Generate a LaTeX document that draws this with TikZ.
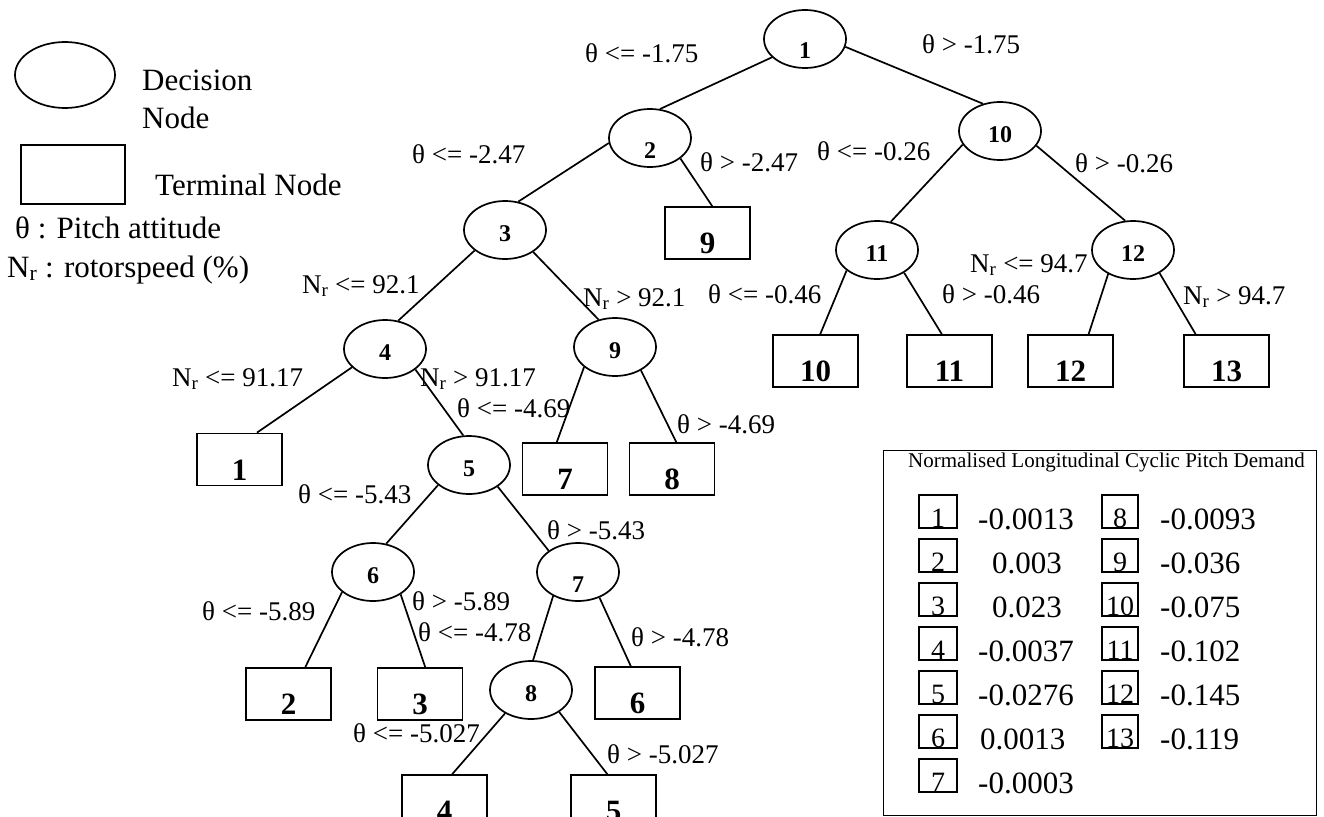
\documentclass[tikz,border=0pt]{standalone}
\usepackage{fontspec}
\setmainfont{Liberation Serif}
\usetikzlibrary{shapes.geometric}
\newcommand{\fsz}[1]{\fontsize{#1}{#1}\selectfont}
\newcommand{\Nr}{N\textsubscript{r}}
\tikzset{
  x=1pt, y=-1pt,
  dec/.style={ellipse, draw, line width=1.7pt, minimum width=82pt, minimum height=58pt,
    inner sep=0pt, font=\fsz{24}\bfseries, text height=22pt, text depth=0pt},
  declow/.style={dec, text height=40pt},
  term/.style={rectangle, draw, line width=1.7pt, minimum width=85pt, minimum height=52pt,
    inner sep=0pt, font=\fsz{31}\bfseries, text height=41pt, text depth=0pt},
  cond/.style={anchor=base west, inner sep=0pt, font=\fsz{27}},
  branch/.style={line width=1.7pt},
  legtxt/.style={anchor=base west, inner sep=0pt, font=\fsz{31}},
  keybox/.style={rectangle, draw, line width=1.3pt, minimum height=33pt,
    inner sep=0pt, font=\fsz{28}, text height=31pt, text depth=0pt},
  keyval/.style={anchor=base west, inner sep=0pt, font=\fsz{31}},
}
\begin{document}
\begin{tikzpicture}
\useasboundingbox (0,0) rectangle (1324,816);
\fill[white] (0,0) rectangle (1324,816);
\clip (0,0) rectangle (1324,816);

% ---- key to the symbols (top left)
\node[ellipse, draw, line width=1.7pt, minimum width=100pt, minimum height=66pt, inner sep=0pt] (kdec) at (65,75) {};
\node[legtxt] (kdec1) at (142,90) {Decision};
\node[legtxt] (kdec2) at (142,128) {Node};
\node[rectangle, draw, line width=1.7pt, minimum width=104pt, minimum height=59pt, inner sep=0pt] (kterm) at (73,174.5) {};
\node[legtxt] (kterm1) at (155,195) {Terminal Node};
\node[legtxt] (ktheta) at (15,238) {θ : Pitch attitude};
\node[legtxt] (knr) at (7,277) {\Nr\ : rotorspeed (\%)};

% ---- decision nodes
\node[declow] (d1) at (805,39) {1};
\node[declow] (d2) at (650,138) {2};
\node[dec] (d3) at (505,230) {3};
\node[dec] (d4) at (385,349) {4};
\node[dec] (d5) at (469,465) {5};
\node[dec] (d6) at (373,572) {6};
\node[declow] (d7) at (578,572) {7};
\node[dec] (d8) at (531,690) {8};
\node[dec] (d9) at (615,347) {9};
\node[dec] (d10) at (1000,131) {10};
\node[dec] (d11) at (877,250) {11};
\node[dec] (d12) at (1133,250) {12};

% ---- terminal nodes
\node[term] (b1) at (239.5,459.5) {1};
\node[term] (b2) at (288.5,694) {2};
\node[term] (b3) at (420,694) {3};
\node[term] (b4) at (444.5,801) {4};
\node[term] (b5) at (613.5,801) {5};
\node[term] (b6) at (637.5,693) {6};
\node[term] (b7) at (565,469) {7};
\node[term] (b8) at (672,469) {8};
\node[term] (b9) at (707.5,233) {9};
\node[term] (b10) at (815.5,361) {10};
\node[term] (b11) at (949.5,361) {11};
\node[term] (b12) at (1070.5,361) {12};
\node[term] (b13) at (1226.5,361) {13};

% ---- branches
\draw[branch] (d1.209) -- (d2.71);
\draw[branch] (d1.349) -- (d10.122);
\draw[branch] (d2.187) -- (d3.65);
\draw[branch] (d2.326) -- (b9.80);
\draw[branch] (d10.200) -- (d11.64);
\draw[branch] (d10.338) -- (d12.105);
\draw[branch] (d11.214) -- (b10.80);
\draw[branch] (d11.320) -- (b11.106);
\draw[branch] (d12.224) -- (b12.56);
\draw[branch] (d12.319) -- (b13.139);
\draw[branch] (d3.214) -- (d4.65);
\draw[branch] (d3.322) -- (d9.121);
\draw[branch] (d4.209) -- (b1.57);
\draw[branch] (d4.326) -- (d5.101);
\draw[branch] (d9.213) -- (b7.107);
\draw[branch] (d9.318) -- (b8.81);
\draw[branch] (d5.213) -- (d6.65);
\draw[branch] (d5.323) -- (d7.144);
\draw[branch] (d6.213) -- (b2.58);
\draw[branch] (d6.321) -- (b3.79);
\draw[branch] (d7.224) -- (d8.86);
\draw[branch] (d7.310) -- (b6.104);
\draw[branch] (d8.222) -- (b4.74);
\draw[branch] (d8.322) -- (b5.103);

% ---- split conditions
\node[cond] (c12) at (585,63) {θ <= -1.75};
\node[cond] (c110) at (922,53) {θ > -1.75};
\node[cond] (c23) at (412,163) {θ <= -2.47};
\node[cond] (c29) at (700,171) {θ > -2.47};
\node[cond] (c1011) at (817,160) {θ <= -0.26};
\node[cond] (c1012) at (1075,172) {θ > -0.26};
\node[cond] (c34) at (302,293) {\Nr\ <= 92.1};
\node[cond] (c39) at (583,306) {\Nr\ > 92.1};
\node[cond] (c1110) at (708,303) {θ <= -0.46};
\node[cond] (c1111) at (942,303) {θ > -0.46};
\node[cond] (c1212) at (970,272) {\Nr\ <= 94.7};
\node[cond] (c1213) at (1183,304) {\Nr\ > 94.7};
\node[cond] (c41) at (172,386) {\Nr\ <= 91.17};
\node[cond] (c45) at (420,386) {\Nr\ > 91.17};
\node[cond] (c97) at (457,417) {θ <= -4.69};
\node[cond] (c98) at (677,433) {θ > -4.69};
\node[cond] (c56) at (298,503) {θ <= -5.43};
\node[cond] (c57) at (547,539) {θ > -5.43};
\node[cond] (c62) at (202,620) {θ <= -5.89};
\node[cond] (c63) at (412,610) {θ > -5.89};
\node[cond] (c78) at (418,641) {θ <= -4.78};
\node[cond] (c76) at (631,646) {θ > -4.78};
\node[cond] (c84) at (353,742) {θ <= -5.027};
\node[cond] (c85) at (607,763) {θ > -5.027};

% ---- table of terminal values
\node[draw, line width=1.2pt, minimum width=433pt, minimum height=365pt, inner sep=0pt, anchor=north west] (keyframe) at (883,450) {};
\node[anchor=base west, inner sep=0pt, font=\fsz{21}] (keytitle) at (908,467) {Normalised Longitudinal Cyclic Pitch Demand};

\foreach \n/\row/\xv/\val in {1/0/978/-0.0013, 2/1/992/0.003, 3/2/992/0.023, 4/3/978/-0.0037,
                              5/4/978/-0.0276, 6/5/980/0.0013, 7/6/978/-0.0003}{
  \node[keybox, minimum width=38pt] (k\n) at (938,{511.5+44*\row}) {\n};
  \node[keyval] (v\n) at (\xv,{529+44*\row}) {\val};
}
\foreach \n/\row/\val in {8/0/-0.0093, 9/1/-0.036, 10/2/-0.075, 11/3/-0.102, 12/4/-0.145, 13/5/-0.119}{
  \node[keybox, minimum width=36pt] (k\n) at (1120,{511.5+44*\row}) {\n};
  \node[keyval] (v\n) at (1160,{529+44*\row}) {\val};
}
\end{tikzpicture}
\end{document}
